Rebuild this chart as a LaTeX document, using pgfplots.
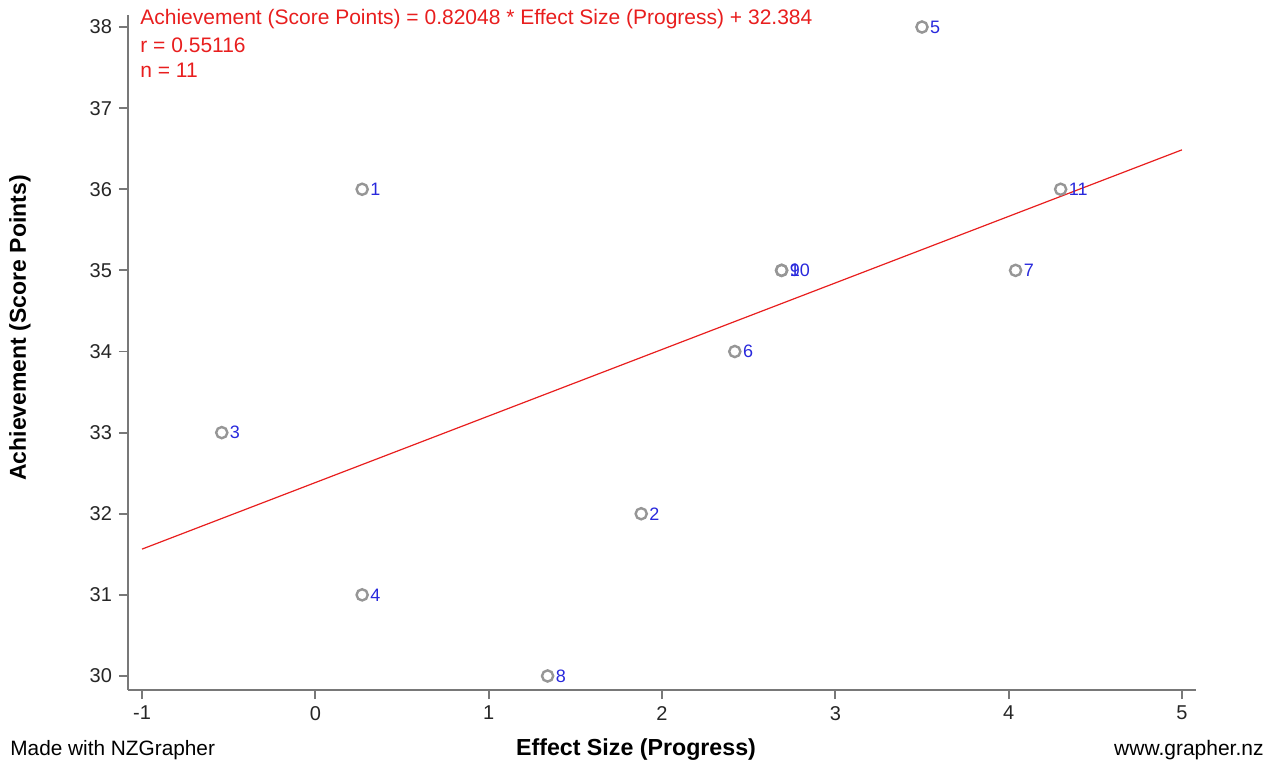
\documentclass[border=0pt]{standalone}
\usepackage{pgfplots}
\pgfplotsset{compat=1.18}
\usepackage{fontspec}
\setmainfont{Liberation Sans}
\definecolor{axgray}{RGB}{120,120,120}
\definecolor{ptgray}{RGB}{150,150,150}
\definecolor{lblblue}{RGB}{40,40,220}
\definecolor{eqred}{RGB}{232,30,30}
\pgfplotstableread{
x y label
0.27 36 1
1.88 32 2
-0.54 33 3
0.27 31 4
3.50 38 5
2.42 34 6
4.04 35 7
1.34 30 8
2.69 35 9
2.69 35 10
4.30 36 11
}\datatable
\begin{document}
\begin{tikzpicture}
\useasboundingbox (0pt,0pt) rectangle (637.5pt,-383pt);
\begin{axis}[
  at={(64pt,-345pt)}, anchor=south west,
  scale only axis, width=534pt, height=337.5pt,
  xmin=-1.081, xmax=5.081, ymin=29.827, ymax=38.148,
  axis x line=bottom, axis y line=left,
  axis line style={axgray, line width=1.4pt, -},
  xtick={-1,0,1,2,3,4,5}, ytick={30,31,32,33,34,35,36,37,38},
  tick align=outside, major tick length=4.5pt,
  tick style={axgray, line width=0.9pt},
  tick label style={font=\fontsize{10}{11}\selectfont, text=black!85},
  /pgf/number format/assume math mode=true,
  clip=false,
]
\addplot[eqred, line width=0.6pt] coordinates {(-1,31.564) (5,36.486)};
\addplot[only marks, mark=o, mark size=2.8pt, mark options={ptgray, line width=1.2pt},
  nodes near coords, point meta=explicit symbolic,
  every node near coord/.append style={anchor=west, xshift=3pt, text=lblblue, font=\fontsize{9}{10}\selectfont, inner sep=0.5pt}]
  table[x=x, y=y, meta=label] {\datatable};
\end{axis}
\node[anchor=west, text=eqred, font=\fontsize{10.5}{12}\selectfont, inner sep=0pt] at (70pt,-9.5pt) {Achievement (Score Points) = 0.82048 * Effect Size (Progress) + 32.384};
\node[anchor=west, text=eqred, font=\fontsize{10.5}{12}\selectfont, inner sep=0pt] at (70pt,-22.5pt) {r = 0.55116};
\node[anchor=west, text=eqred, font=\fontsize{10.5}{12}\selectfont, inner sep=0pt] at (70pt,-35pt) {n = 11};
\node[font=\bfseries\fontsize{11.6}{13}\selectfont, inner sep=0pt] at (318pt,-375pt) {Effect Size (Progress)};
\node[rotate=90, font=\bfseries\fontsize{11.5}{13}\selectfont, inner sep=0pt] at (10pt,-164pt) {Achievement (Score Points)};
\node[anchor=west, font=\fontsize{10.4}{12}\selectfont, inner sep=0pt] at (5pt,-375pt) {Made with NZGrapher};
\node[anchor=east, font=\fontsize{10.5}{12}\selectfont, inner sep=0pt] at (632pt,-375pt) {www.grapher.nz};
\end{tikzpicture}
\end{document}
